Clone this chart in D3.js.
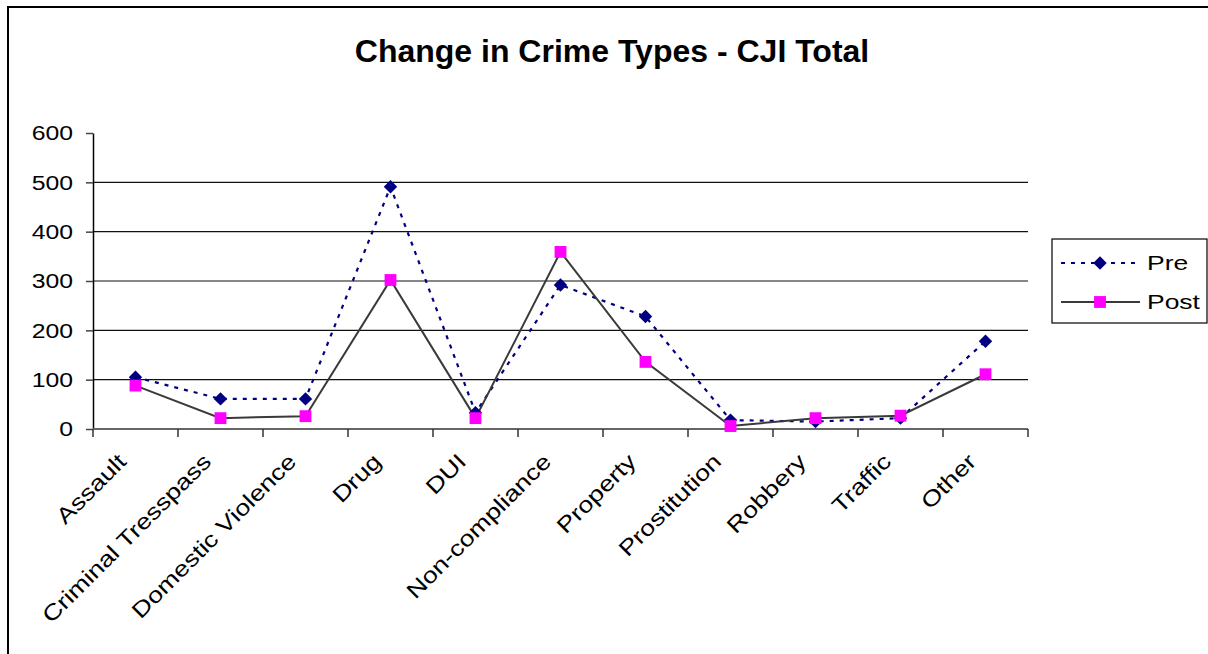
<!DOCTYPE html>
<html>
<head>
<meta charset="utf-8">
<script src="https://cdn.jsdelivr.net/npm/d3@7"></script>
<style>
  html, body { margin: 0; padding: 0; background: #fff; }
  svg { display: block; font-family: "Liberation Sans", Arial, sans-serif; }
</style>
</head>
<body>
<svg id="chart" width="1208" height="654"></svg>
<script>
// Crime type categories and counts before / after
const categories = ["Assault", "Criminal Tresspass", "Domestic Violence", "Drug", "DUI",
  "Non-compliance", "Property", "Prostitution", "Robbery", "Traffic", "Other"];
const preValues  = [105, 61, 61, 491, 33, 292, 228, 18, 15, 22, 178];
const postValues = [88, 22, 26, 302, 22, 359, 136, 6, 22, 27, 111];
const yTicks = [0, 100, 200, 300, 400, 500, 600];
const seriesNames = ["Pre", "Post"];

const LABEL_FONT = 21;      // axis and legend text size
const LABEL_STRETCH = 1.18; // wide-set glyphs for axis and legend text

const svg = d3.select("#chart");

// outer frame
svg.append("rect")
  .attr("x", 8).attr("y", 7)
  .attr("width", 1300).attr("height", 800)
  .attr("fill", "#fff").attr("stroke", "#000").attr("stroke-width", 2);

// title
svg.append("text")
  .attr("x", 612).attr("y", 62)
  .attr("text-anchor", "middle")
  .attr("font-size", 32).attr("font-weight", "bold")
  .text("Change in Crime Types - CJI Total");

const plot = { left: 93, right: 1028, top: 133, bottom: 429 };

const x = d3.scaleBand().domain(categories).range([plot.left, plot.right]);
const y = d3.scaleLinear().domain([0, 600]).range([plot.bottom, plot.top]);

// horizontal gridlines
svg.append("g")
  .selectAll("line")
  .data(yTicks.filter(t => t > 0 && t < 600))
  .join("line")
  .attr("x1", plot.left).attr("x2", plot.right)
  .attr("y1", d => y(d)).attr("y2", d => y(d))
  .attr("stroke", "#111").attr("stroke-width", 1.2);

// y axis
const yAxis = svg.append("g")
  .attr("transform", `translate(${plot.left},0)`)
  .call(d3.axisLeft(y).tickValues(yTicks).tickSize(7).tickSizeOuter(0));
yAxis.select(".domain").attr("stroke", "#000").attr("stroke-width", 1.5);
yAxis.selectAll(".tick line").attr("stroke", "#444").attr("stroke-width", 1.5);
yAxis.selectAll("text")
  .attr("x", 0)
  .attr("transform", `translate(-20,0) scale(${LABEL_STRETCH},1)`)
  .attr("font-size", LABEL_FONT)
  .attr("font-family", "Liberation Sans, Arial, sans-serif")
  .attr("fill", "#000");

// x axis: ticks at band boundaries
const xAxisG = svg.append("g").attr("transform", `translate(0,${plot.bottom})`);
xAxisG.append("line")
  .attr("x1", plot.left).attr("x2", plot.right)
  .attr("stroke", "#666").attr("stroke-width", 2);
const boundaries = categories.map(c => x(c)).concat([x(categories[categories.length - 1]) + x.bandwidth()]);
xAxisG.selectAll("line.tick")
  .data(boundaries)
  .join("line")
  .attr("class", "tick")
  .attr("x1", d => d).attr("x2", d => d)
  .attr("y1", 0).attr("y2", 8)
  .attr("stroke", "#333").attr("stroke-width", 1.5);

// rotated category labels
xAxisG.selectAll("text")
  .data(categories)
  .join("text")
  .attr("text-anchor", "end")
  .attr("font-size", 22)
  .attr("transform", d => `translate(${x(d) + x.bandwidth() / 2 - 8},${34}) rotate(-45) scale(1.22,1)`)
  .text(d => d);

const cx = d => x(d) + x.bandwidth() / 2;

// lines
const line = d3.line().x(d => cx(d.cat)).y(d => y(d.v));
const preData = categories.map((c, i) => ({ cat: c, v: preValues[i] }));
const postData = categories.map((c, i) => ({ cat: c, v: postValues[i] }));

svg.append("path")
  .datum(preData)
  .attr("d", line)
  .attr("fill", "none")
  .attr("stroke", "#000080").attr("stroke-width", 2.2)
  .attr("stroke-dasharray", "4,6");

svg.append("path")
  .datum(postData)
  .attr("d", line)
  .attr("fill", "none")
  .attr("stroke", "#3a3a3a").attr("stroke-width", 2);

// markers
const diamond = d3.symbol().type(d3.symbolDiamond2).size(115);
const square = d3.symbol().type(d3.symbolSquare).size(140);

svg.append("g").selectAll("path")
  .data(preData)
  .join("path")
  .attr("d", diamond)
  .attr("transform", d => `translate(${cx(d.cat)},${y(d.v)})`)
  .attr("fill", "#000080");

svg.append("g").selectAll("path")
  .data(postData)
  .join("path")
  .attr("d", square)
  .attr("transform", d => `translate(${cx(d.cat)},${y(d.v)})`)
  .attr("fill", "#ff00ff");

// legend
const legend = svg.append("g");
legend.append("rect")
  .attr("x", 1052).attr("y", 239)
  .attr("width", 155).attr("height", 84)
  .attr("fill", "#fff").attr("stroke", "#000").attr("stroke-width", 1.2);

const legendRows = [
  { name: seriesNames[0], y: 263, stroke: "#000080", dash: "4,6", marker: diamond, fill: "#000080" },
  { name: seriesNames[1], y: 302, stroke: "#3a3a3a", dash: null, marker: square, fill: "#ff00ff" }
];
legendRows.forEach(r => {
  legend.append("line")
    .attr("x1", 1061).attr("x2", 1140)
    .attr("y1", r.y).attr("y2", r.y)
    .attr("stroke", r.stroke).attr("stroke-width", 2)
    .attr("stroke-dasharray", r.dash);
  legend.append("path")
    .attr("d", r.marker)
    .attr("transform", `translate(1100,${r.y})`)
    .attr("fill", r.fill);
  legend.append("text")
    .attr("transform", `translate(1147,${r.y + 7}) scale(${LABEL_STRETCH + 0.08},1)`)
    .attr("font-size", LABEL_FONT)
    .text(r.name);
});
</script>
</body>
</html>
